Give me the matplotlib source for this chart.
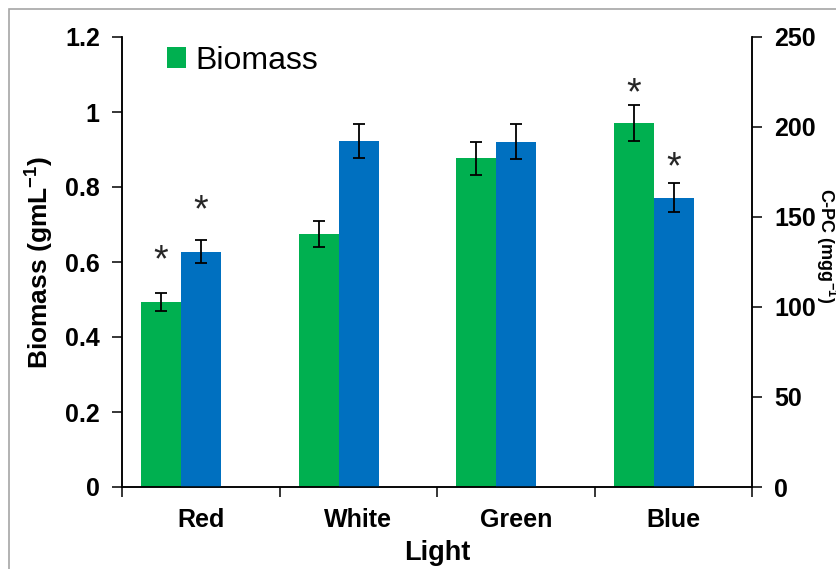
import numpy as np
import matplotlib
matplotlib.use("Agg")
from matplotlib import pyplot as plt
from matplotlib.patches import Rectangle

plt.rcParams['font.family'] = ['Liberation Sans', 'DejaVu Sans']
plt.rcParams['mathtext.fontset'] = 'custom'
plt.rcParams['mathtext.rm'] = 'Liberation Sans'
plt.rcParams['mathtext.bf'] = 'Liberation Sans:bold'

# data
lights = ["Red", "White", "Green", "Blue"]
biomass = [0.494, 0.675, 0.877, 0.970]
biomass_err = [0.024, 0.034, 0.044, 0.048]
cpc = [130.7, 192.2, 191.7, 160.7]
cpc_err = [6.5, 9.6, 9.7, 8.0]
# significance stars: (category index, height)
biomass_stars = [(0, 0.624), (3, 1.069)]
cpc_stars = [(0, 157.8), (3, 181.7)]

green = "#00B050"
blue = "#0070C0"
W, H = 836, 569

fig = plt.figure(figsize=(W / 100, H / 100), dpi=100)
# chart area border
fig.patches.append(Rectangle((9 / W, -0.1), 1.2, 1 - 9 / H + 0.1, transform=fig.transFigure,
                             fill=False, edgecolor="#A6A6A6", linewidth=1.2))

ax = fig.add_axes([122 / W, (H - 487) / H, (752 - 122) / W, (487 - 37) / H])
ax2 = ax.twinx()

x = np.arange(len(lights))
bw = 0.254
ax.bar(x - 0.125 - bw / 2, biomass, bw, color=green, label="Biomass", zorder=2)
ax.errorbar(x - 0.125 - bw / 2, biomass, yerr=biomass_err, fmt="none", ecolor="black",
            elinewidth=1.3, capsize=4.5, capthick=1.3, zorder=3)
ax2.bar(x - 0.125 + bw / 2, cpc, bw, color=blue, zorder=2)
ax2.errorbar(x - 0.125 + bw / 2, cpc, yerr=cpc_err, fmt="none", ecolor="black",
             elinewidth=1.3, capsize=4.5, capthick=1.3, zorder=3)

for i, h in biomass_stars:
    ax.annotate("*", (i - 0.125 - bw / 2, h), xytext=(0, -6), textcoords="offset points",
                ha="center", va="center", fontsize=27, color="#262626")
for i, h in cpc_stars:
    ax2.annotate("*", (i - 0.125 + bw / 2, h), xytext=(0, -6), textcoords="offset points",
                 ha="center", va="center", fontsize=27, color="#262626")

ax.set_xlim(-0.5, len(lights) - 0.5)
ax.set_ylim(0, 1.2)
ax.set_yticks([0, 0.2, 0.4, 0.6, 0.8, 1.0, 1.2])
ax.set_yticklabels(["0", "0.2", "0.4", "0.6", "0.8", "1", "1.2"])
ax2.set_ylim(0, 250)
ax2.set_yticks([0, 50, 100, 150, 200, 250])

ax.set_xticks(x)
ax.set_xticklabels(lights)
ax.set_xticks(np.arange(len(lights) + 1) - 0.5, minor=True)
ax.tick_params(axis="x", which="major", length=0, pad=15, labelsize=18)
ax.tick_params(axis="x", which="minor", length=7, width=1.1, direction="out")
ax.tick_params(axis="y", length=7, width=1.1, direction="out", labelsize=18, pad=9)
ax2.tick_params(axis="y", length=7, width=1.1, direction="out", labelsize=18, pad=9)
for lab in ax.get_xticklabels() + ax.get_yticklabels() + ax2.get_yticklabels():
    lab.set_fontweight("bold")

for a in (ax, ax2):
    a.spines["top"].set_visible(False)
    for s in ("left", "right", "bottom"):
        a.spines[s].set_linewidth(1.1)

ax.set_xlabel("Light", fontsize=19.5, fontweight="bold", labelpad=6)
ax.set_ylabel("Biomass (gmL$^{\\mathbf{-1}}$)", fontsize=19, fontweight="bold", labelpad=7)
fig.text(826 / W, 1 - 246 / H, "C-PC (mgg$^{\\mathbf{-1}}$)", rotation=270, ha="center",
         va="center", fontsize=13, fontweight="bold")

ax.legend(loc="upper left", bbox_to_anchor=(0.051, 1.009), frameon=False, fontsize=23,
          handlelength=0.6, handleheight=0.6, handletextpad=0.3, borderaxespad=0)

fig.savefig("out.png", dpi=100)
